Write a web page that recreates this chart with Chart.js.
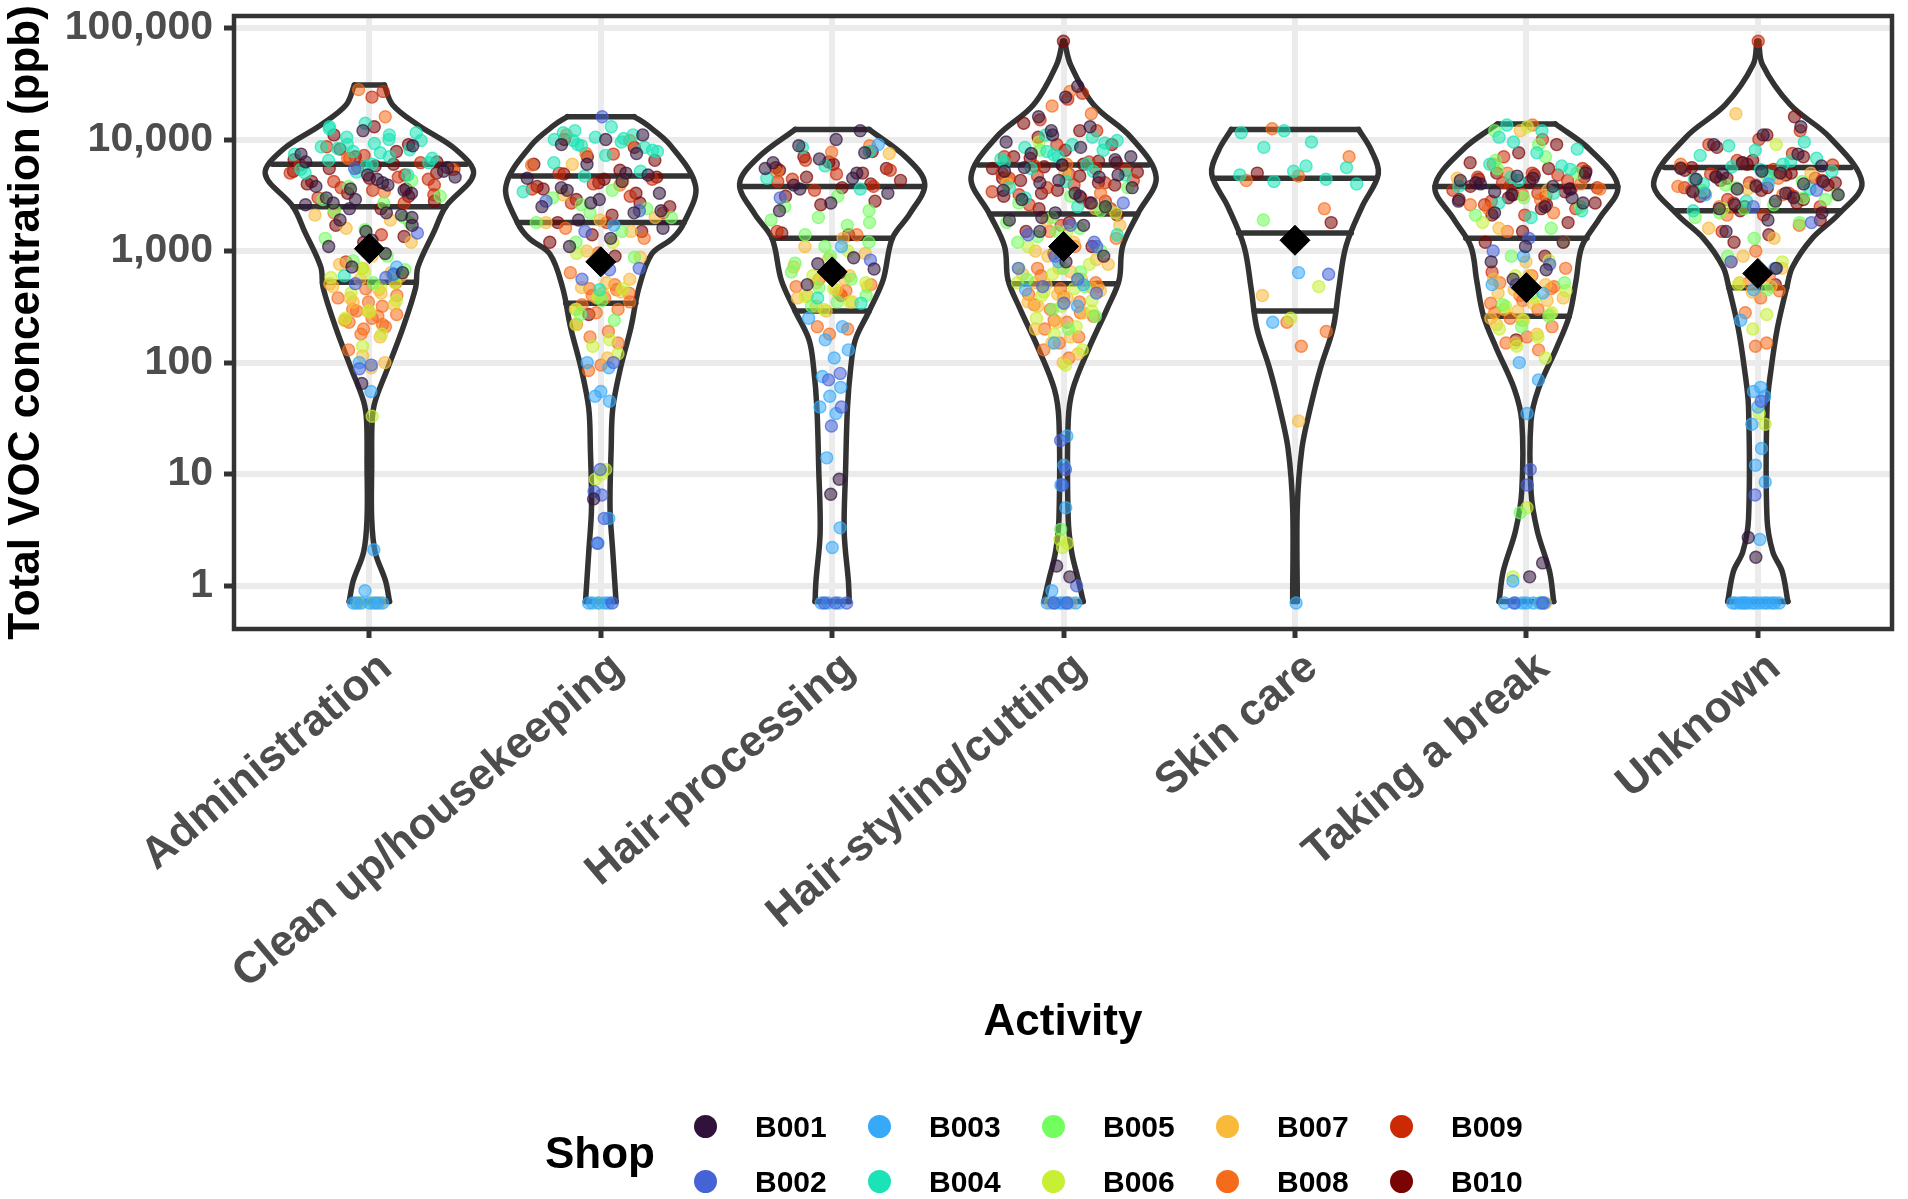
<!DOCTYPE html>
<html lang="en">
<head>
<meta charset="utf-8">
<title>Total VOC concentration by activity</title>
<script src="https://cdn.jsdelivr.net/npm/chart.js@4.4.1/dist/chart.umd.min.js"></script>
<style>
  html, body { margin: 0; padding: 0; background: #fff; }
  #wrap { position: relative; width: 1908px; height: 1199px; font-family: 'Liberation Sans', Arial, sans-serif; }
  #chart { position: absolute; left: 0; top: 0; }
  .legend-title { position: absolute; font-weight: bold; font-size: 44px; line-height: 44px; color: #000; }
  .legend-dot { position: absolute; width: 23px; height: 23px; border-radius: 50%; }
  .legend-label { position: absolute; font-weight: bold; font-size: 30px; line-height: 30px; color: #000; }
</style>
</head>
<body>
<div id="wrap">
  <canvas id="chart" width="1908" height="1199"></canvas>
</div>
<script>
const activities = ['Administration', 'Clean up/housekeeping', 'Hair-processing', 'Hair-styling/cutting', 'Skin care', 'Taking a break', 'Unknown'];
const shopNames = ['B001', 'B002', 'B003', 'B004', 'B005', 'B006', 'B007', 'B008', 'B009', 'B010'];
const shopColors = ['#30123B', '#4662D7', '#36AAF9', '#1AE4B6', '#72FE5E', '#C7EF34', '#FABA39', '#F66B19', '#CB2A04', '#7A0403'];
const yTickValues = [1, 10, 100, 1000, 10000, 100000];

// measurements per activity, one list per shop (B001 ... B010), ppb
const administration = [
  [5200, 4400, 3800, 3300, 2900, 2600, 2200, 1900, 1700, 4800, 6300, 3500, 2400, 5600, 4100, 3000, 8800, 12000, 7400, 950, 720, 640, 1250, 65, 2100, 3600, 4600, 3900, 2700, 2000, 1500, 1100],
  [580, 510, 1450, 95, 88, 620, 5500],
  [0.7, 0.7, 0.7, 0.7, 0.7, 0.7, 0.7, 0.9, 2.1, 55, 100, 720],
  [14000, 12500, 11000, 10500, 9800, 9200, 8600, 8100, 7800, 7400, 7000, 6500, 6200, 5800, 5400, 4800, 9000, 11500, 7600, 600, 620, 5100, 13000, 10000, 8300, 6800, 6000, 5000],
  [4300, 3800, 3100, 2700, 2300, 1800, 1550, 1300, 900, 820, 680, 520, 2900, 2000],
  [700, 580, 480, 420, 360, 290, 250, 180, 140, 33, 0.7, 0.7, 520, 650],
  [2100, 1900, 1600, 1200, 900, 760, 640, 560, 510, 450, 380, 330, 290, 240, 170, 115, 100, 90, 0.7, 0.7, 700, 480, 420, 350, 600, 280],
  [28000, 16000, 6800, 5400, 3400, 2200, 520, 460, 380, 320, 290, 270, 250, 230, 210, 200, 130, 260, 300, 400, 350, 240, 220, 180],
  [27000, 24000, 8600, 6200, 5600, 5000, 4600, 4200, 3900, 3500, 3000, 2700, 6800, 5400, 1400, 800, 4400, 7200, 5900, 4800, 3700, 3200],
  [13000, 11000, 9000, 7000, 6600, 6000, 5500, 5000, 4500, 4000, 3600, 3300, 2800, 2400, 1700, 1350, 1200, 5200, 7800, 8200, 6300, 5800, 4200, 3100]
];
const cleanUp = [
  [11000, 10000, 9000, 7500, 6000, 4500, 4200, 3700, 3300, 2900, 2500, 2200, 1900, 1600, 1300, 1100, 4800, 2700, 6, 5000, 3500, 2300],
  [16000, 2800, 2300, 1500, 700, 680, 560, 100, 11, 7, 4, 2.4, 0.7, 6.5],
  [0.7, 0.7, 0.7, 0.7, 0.7, 50, 45, 55, 100, 90, 2.4, 4, 1700],
  [12000, 11000, 10500, 10000, 9500, 9000, 8000, 7200, 6200, 5200, 4700, 3400, 13000, 9800, 8500, 450, 11500, 10200, 8800, 7800],
  [3500, 3000, 2400, 2200, 1800, 1500, 1200, 880, 360, 270, 240, 2600, 2000],
  [1200, 950, 460, 390, 300, 160, 140, 120, 10, 9, 11, 0.7, 220],
  [4200, 3200, 2000, 1900, 1800, 1500, 1000, 880, 520, 470, 430, 380, 300, 110, 6000, 560, 420],
  [11000, 9800, 7500, 5900, 3900, 1600, 1300, 960, 640, 500, 460, 420, 380, 330, 300, 280, 220, 190, 170, 150, 95, 85, 450, 400, 350],
  [7400, 5000, 4400, 4000, 3600, 3100, 2700, 2200, 1800],
  [10000, 8500, 7000, 6000, 5300, 4900, 4600, 4100, 3800, 3300, 2900, 2500, 2100, 1800, 1500, 1400, 1200, 900, 270, 6500, 4400, 3600, 2700]
];
const hairProcessing = [
  [12000, 10000, 8800, 7600, 6700, 5500, 4500, 3900, 3300, 2700, 2300, 870, 770, 690, 640, 500, 9, 6.6, 6200, 5000, 3600],
  [830, 700, 3000, 80, 70, 0.7, 0.7, 0.7, 40, 27],
  [250, 210, 160, 130, 110, 75, 60, 50, 40, 35, 14, 3.3, 2.2, 0.7, 0.7, 0.7, 9000, 1100],
  [8500, 7800, 5800, 4500, 3600, 380, 340],
  [3100, 2500, 2300, 2000, 1900, 1700, 1400, 1200, 900, 780, 560, 470, 400, 350, 320, 1800, 1100, 650],
  [1000, 600, 520, 460, 390, 350, 300],
  [7500, 1300, 1100, 950, 850, 720, 600, 520, 480, 450, 400, 350, 290, 380, 560, 320],
  [8800, 7700, 5100, 1400, 560, 500, 420, 210, 200, 180, 480, 440],
  [6500, 5300, 4900, 4200, 3800, 3500, 1500, 400, 4400],
  [7800, 6300, 5600, 5000, 4600, 4300, 3700, 3100, 2800, 2600, 1450, 1400, 7000, 5500, 6000, 5300, 4000]
];
const hairStyling = [
  [30000, 24000, 16000, 13000, 11000, 9500, 8500, 7500, 6600, 5900, 5200, 4600, 4100, 3700, 3300, 2900, 2500, 2200, 1900, 1700, 1500, 900, 800, 1.5, 1.2, 12000, 7000, 3100, 5600, 4800, 4300, 3500, 2700, 2000],
  [2700, 1700, 1400, 1200, 900, 700, 560, 480, 420, 340, 20, 11, 8, 1, 0.7, 0.7, 1100],
  [800, 450, 320, 150, 22, 12, 8, 5, 0.7, 0.7, 0.7, 0.7, 0.7, 0.7, 0.9, 500],
  [11000, 9800, 9000, 8500, 8000, 7300, 6700, 6000, 5500, 4800, 4200, 3700, 10500, 7800, 1400, 2500, 3000, 9300, 7000, 6300, 5200],
  [8000, 3700, 3100, 2700, 2300, 2000, 1800, 1600, 1350, 1000, 700, 560, 480, 300, 260, 200, 3.2, 2500, 1500, 1200, 650],
  [9500, 2200, 1500, 1100, 760, 620, 520, 460, 400, 360, 320, 250, 210, 180, 130, 95, 2.6, 2.4, 2.2, 700, 560, 430, 290],
  [5000, 4000, 2400, 1900, 1700, 1200, 1000, 840, 700, 620, 560, 500, 440, 380, 320, 280, 230, 200, 170, 150, 120, 100, 0.7, 0.7, 900, 760, 650, 520, 470, 410, 350],
  [27000, 20000, 17000, 6000, 4500, 3300, 1500, 1300, 1100, 700, 520, 460, 410, 350, 300, 260, 230, 200, 170, 150, 130, 110, 600, 480, 390, 330, 280, 240],
  [26000, 23000, 15000, 12000, 9000, 7000, 6300, 5800, 5300, 4900, 4500, 4100, 3700, 3400, 3000, 2600, 2400, 1700, 5000, 5500, 4700, 4300, 3900, 3200, 2800],
  [76000, 14000, 12000, 10500, 9000, 8000, 7000, 6400, 5700, 5100, 4700, 4300, 3900, 3500, 3100, 2700, 2400, 2100, 1800, 1500, 1100, 950, 5500, 6000, 6800, 6200, 5900, 4500, 4100, 3300]
];
const skinCare = [
  [],
  [620],
  [640, 230, 0.7],
  [12000, 11500, 9500, 8500, 5600, 5200, 4800, 4400, 4200, 4000, 5800],
  [1900],
  [480, 250],
  [400, 30],
  [12500, 7000, 4700, 4300, 2400, 230, 190, 140],
  [],
  [5000, 1800]
];
const takingBreak = [
  [5000, 4500, 4100, 3600, 3200, 2800, 2500, 2200, 1200, 1100, 800, 680, 560, 1.6, 1.2, 4000, 3000, 4700, 4300, 3800, 3400, 2700],
  [1300, 1000, 760, 500, 11, 8, 0.7, 0.7],
  [900, 500, 420, 100, 70, 35, 1.1, 0.7, 0.7, 0.7, 0.7, 0.7, 0.7, 0.7],
  [13500, 12000, 9500, 8200, 7600, 6000, 5400, 4300, 3800, 3300, 2700, 2300, 2000, 10500, 5800, 4600],
  [12000, 9000, 6500, 5000, 3000, 2100, 1600, 900, 520, 420, 330, 260, 210, 4.5, 7000, 5500, 2500],
  [13000, 1800, 820, 600, 440, 380, 320, 280, 240, 200, 170, 140, 110, 5, 1.2, 0.7],
  [12000, 4500, 3500, 1600, 1200, 800, 560, 500, 450, 380, 340, 300, 270, 240, 220, 180, 150, 0.7, 600, 420, 360, 290, 250],
  [13500, 6000, 4000, 3200, 2600, 2200, 1500, 700, 600, 520, 460, 400, 340, 300, 250, 210, 170, 150, 130, 5000, 3600, 2900, 2400, 480, 360, 280],
  [10000, 7000, 5500, 5000, 4600, 4300, 3900, 3500, 3100, 2800, 2400, 2100, 650, 4800, 4100, 3700, 3300, 2600],
  [9000, 7600, 6200, 5500, 5000, 4600, 4200, 3800, 3400, 3000, 2700, 2400, 2100, 1800, 1500, 1200, 900, 160, 5200, 4800, 4400, 3600, 3200, 2900, 2600]
];
const unknown = [
  [13000, 11000, 9000, 7400, 6200, 5500, 5000, 4600, 4200, 3800, 3400, 3000, 2600, 2200, 1900, 1500, 700, 1.8, 2.7, 3300, 4900, 5800, 5200, 4400, 4000, 3600, 3200, 2800, 2400],
  [3500, 2500, 800, 45, 6.5, 1800],
  [4000, 3200, 700, 450, 240, 60, 55, 50, 40, 28, 17, 12, 8.5, 2.6, 0.7, 0.7, 0.7, 0.7, 0.7, 0.7, 0.7, 0.7, 0.7, 0.7, 0.7, 0.7, 0.7, 0.7],
  [9500, 8000, 7200, 6400, 5700, 5200, 4700, 4000, 3600, 2800, 2300, 6000, 8800, 6800, 5400, 4400],
  [4200, 3700, 3200, 2600, 2200, 1800, 1300, 900, 450, 3900, 2900, 4800, 3500, 3000, 2400, 2000],
  [9000, 2400, 800, 600, 500, 270, 200, 28, 35],
  [17000, 5000, 3600, 1600, 1300, 900, 700, 560, 520, 480, 430],
  [6000, 4500, 2500, 1700, 1000, 800, 600, 520, 440, 380, 280, 150, 140, 3800, 3200, 2100],
  [12000, 10000, 9000, 7500, 6500, 5900, 5400, 4900, 4500, 4100, 3700, 3300, 2900, 2500, 2100, 1500, 76000, 6200, 5600, 5100, 4700, 4300, 3900, 3500, 3100, 2700],
  [16000, 11000, 8500, 7000, 6000, 5300, 4800, 4300, 3900, 3500, 3100, 2700, 2300, 1900, 1400, 1200, 500, 6500, 5600, 5000, 4500, 4100, 3700, 3300, 2900, 2500]
];
const pointsByActivity = [administration, cleanUp, hairProcessing, hairStyling, skinCare, takingBreak, unknown];

// violin density outlines: [value (ppb), half width (category units)], bottom to top
const violinAdministration = [[0.72, 0.087], [1.1, 0.07], [2, 0.025], [4, 0.01], [12, 0.01], [30, 0.012], [45, 0.025], [90, 0.08], [205, 0.145], [470, 0.2], [720, 0.21], [1500, 0.28], [2500, 0.33], [4900, 0.45], [8100, 0.375], [13500, 0.21], [20500, 0.1], [30800, 0.065]];
const violinCleanUp = [[0.72, 0.066], [2, 0.052], [5, 0.04], [17, 0.045], [39, 0.052], [89, 0.085], [205, 0.13], [470, 0.165], [940, 0.22], [1300, 0.31], [1800, 0.36], [3800, 0.41], [8900, 0.3], [13500, 0.2], [16000, 0.145]];
const violinHairProcessing = [[0.72, 0.074], [1.1, 0.07], [3, 0.052], [11, 0.058], [39, 0.066], [89, 0.08], [160, 0.1], [290, 0.16], [550, 0.22], [1300, 0.26], [2150, 0.335], [4000, 0.4], [6900, 0.32], [12300, 0.16]];
const violinHairStyling = [[0.72, 0.085], [1.1, 0.065], [2, 0.035], [4, 0.02], [30, 0.02], [58, 0.04], [135, 0.11], [310, 0.19], [550, 0.24], [1100, 0.255], [2150, 0.32], [4600, 0.4], [10500, 0.29], [20500, 0.13], [47000, 0.03], [76000, 0.004]];
const violinSkinCare = [[0.72, 0.01], [5, 0.01], [17, 0.03], [39, 0.066], [89, 0.11], [205, 0.165], [470, 0.19], [1100, 0.22], [2500, 0.29], [4900, 0.36], [8000, 0.33], [12300, 0.275]];
const violinTakingBreak = [[0.72, 0.118], [1.35, 0.1], [3.1, 0.047], [7, 0.02], [30, 0.02], [58, 0.052], [135, 0.13], [260, 0.185], [550, 0.215], [1100, 0.24], [1950, 0.315], [3800, 0.395], [8100, 0.275], [13800, 0.125]];
const violinUnknown = [[0.72, 0.13], [1.35, 0.105], [2, 0.065], [4, 0.04], [40, 0.04], [89, 0.058], [205, 0.085], [470, 0.125], [720, 0.15], [1300, 0.235], [2150, 0.35], [4100, 0.45], [10500, 0.31], [20500, 0.14], [47000, 0.02], [76000, 0.004]];
const violins = [violinAdministration, violinCleanUp, violinHairProcessing, violinHairStyling, violinSkinCare, violinTakingBreak, violinUnknown];

// 25th, 50th, 75th percentile lines and geometric means
const quartiles = [[525, 2500, 6000], [340, 1800, 4700], [290, 1300, 3800], [510, 2150, 5900], [290, 1450, 4500], [260, 1300, 3800], [470, 2300, 5600]];
const means = [1050, 800, 650, 1100, 1250, 470, 630];

function halfWidthAt(profile, v) {
  const lv = Math.log10(v);
  if (lv <= Math.log10(profile[0][0])) return profile[0][1];
  for (let i = 1; i < profile.length; i++) {
    const l0 = Math.log10(profile[i - 1][0]);
    const l1 = Math.log10(profile[i][0]);
    if (lv <= l1) {
      const t = (lv - l0) / (l1 - l0);
      return profile[i - 1][1] + t * (profile[i][1] - profile[i - 1][1]);
    }
  }
  return profile[profile.length - 1][1];
}

function rgba(hex, a) {
  const n = parseInt(hex.slice(1), 16);
  return `rgba(${(n >> 16) & 255}, ${(n >> 8) & 255}, ${n & 255}, ${a})`;
}

// spread points sideways inside the violin (low-discrepancy offsets, no randomness)
const spread = k => ((k * 0.6180339887 + 0.31) % 1) * 2 - 1;

const datasets = [];

// violins: two sides, end caps and quartile lines
violins.forEach((profile, i) => {
  const cx = i + 1;
  const outline = {
    showLine: true, tension: 0.35, borderColor: '#333333', borderWidth: 5.5,
    borderCapStyle: 'round', borderJoinStyle: 'round', pointRadius: 0, fill: false, order: 2
  };
  datasets.push({ ...outline, data: profile.map(([v, w]) => ({ x: cx + w, y: v })) });
  datasets.push({ ...outline, data: profile.map(([v, w]) => ({ x: cx - w, y: v })) });
  const ends = [profile[0][0], profile[profile.length - 1][0]];
  [...ends, ...quartiles[i]].forEach(v => {
    const w = halfWidthAt(profile, v);
    datasets.push({ ...outline, tension: 0, data: [{ x: cx - w, y: v }, { x: cx + w, y: v }] });
  });
});

// points, one dataset per shop
const shopData = shopNames.map(() => []);
pointsByActivity.forEach((perShop, i) => {
  let k = 0;
  perShop.forEach((values, s) => {
    values.forEach(v => {
      const w = halfWidthAt(violins[i], v);
      k += 1;
      shopData[s].push({ x: i + 1 + 0.85 * w * spread(k), y: v });
    });
  });
});
shopNames.forEach((name, s) => {
  datasets.push({
    label: name,
    data: shopData[s],
    pointRadius: 6,
    pointBorderWidth: 1.4,
    backgroundColor: rgba(shopColors[s], 0.55),
    borderColor: rgba(shopColors[s], 0.7),
    order: 1
  });
});

// means
datasets.push({
  label: 'Mean',
  data: means.map((m, i) => ({ x: i + 1, y: m })),
  pointStyle: 'rectRot',
  pointRadius: 15,
  pointBorderWidth: 1,
  backgroundColor: '#000000',
  borderColor: '#000000',
  order: 0
});

const panelBorder = {
  id: 'panelBorder',
  afterDraw(chart) {
    const { ctx, chartArea: a } = chart;
    ctx.save();
    ctx.strokeStyle = '#333333';
    ctx.lineWidth = 4.5;
    ctx.strokeRect(a.left, a.top, a.right - a.left, a.bottom - a.top);
    ctx.restore();
  }
};

Chart.defaults.font.family = "'Liberation Sans', Arial, sans-serif";

new Chart(document.getElementById('chart'), {
  type: 'scatter',
  data: { datasets },
  options: {
    responsive: false,
    animation: false,
    events: [],
    layout: { padding: { left: 0, right: 7, top: 13, bottom: 150 } },
    plugins: { legend: { display: false }, tooltip: { enabled: false } },
    scales: {
      x: {
        type: 'linear',
        min: 0.415,
        max: 7.58,
        afterBuildTicks: s => { s.ticks = activities.map((_, i) => ({ value: i + 1 })); },
        afterFit: s => { s.height = 420; s.paddingLeft = 0; s.paddingRight = 0; },
        border: { display: false },
        grid: { color: '#ebebeb', lineWidth: 6, tickColor: '#333333', tickWidth: 5, tickLength: 9 },
        ticks: {
          autoSkip: false, minRotation: 40, maxRotation: 40, padding: 4, labelOffset: 17,
          color: '#4d4d4d', font: { size: 44, weight: 'bold' },
          callback: v => activities[v - 1]
        },
        title: { display: true, text: 'Activity', color: '#000000', font: { size: 44, weight: 'bold' }, padding: { top: 0, bottom: 0 } }
      },
      y: {
        type: 'logarithmic',
        min: 0.409,
        max: 128000,
        afterBuildTicks: s => { s.ticks = yTickValues.map(v => ({ value: v })); },
        afterFit: s => { s.width = 234; s.paddingTop = 0; s.paddingBottom = 0; },
        border: { display: false },
        grid: { color: '#ebebeb', lineWidth: 6, tickColor: '#333333', tickWidth: 5, tickLength: 10 },
        ticks: {
          padding: 11, color: '#4d4d4d', font: { size: 41, weight: 'bold' },
          callback: v => Number(v).toLocaleString('en-US')
        },
        title: { display: true, text: 'Total VOC concentration (ppb)', color: '#000000', font: { size: 44, weight: 'bold' }, padding: { top: 0, bottom: 0 } }
      }
    }
  },
  plugins: [panelBorder]
});

// legend: title on the left, two rows filled column by column
const wrap = document.getElementById('wrap');
function addEl(cls, text, left, top, color) {
  const el = document.createElement('div');
  el.className = cls;
  el.textContent = text;
  el.style.left = left + 'px';
  el.style.top = top + 'px';
  if (color) el.style.background = color;
  wrap.appendChild(el);
}
addEl('legend-title', 'Shop', 545, 1131);
shopNames.forEach((name, i) => {
  const col = Math.floor(i / 2);
  const row = i % 2;
  addEl('legend-dot', '', 705 + col * 174 - 11.5, 1126 + row * 55 - 11.5, shopColors[i]);
  addEl('legend-label', name, 755 + col * 174, 1112 + row * 55);
});
</script>
</body>
</html>
